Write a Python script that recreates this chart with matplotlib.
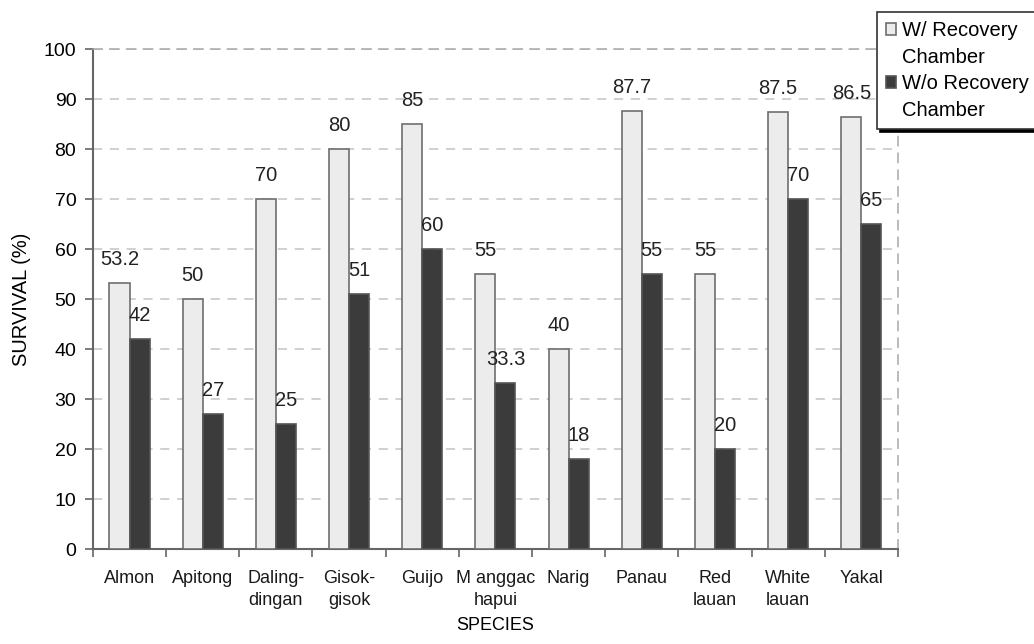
import matplotlib.pyplot as plt
from matplotlib.patches import Patch
import numpy as np

plt.rcParams['font.family'] = ['Liberation Sans', 'DejaVu Sans']

species = ['Almon', 'Apitong', 'Daling-\ndingan', 'Gisok-\ngisok', 'Guijo', 'M anggac\nhapui',
           'Narig', 'Panau', 'Red\nlauan', 'White\nlauan', 'Yakal']
with_chamber = [53.2, 50, 70, 80, 85, 55, 40, 87.7, 55, 87.5, 86.5]
without_chamber = [42, 27, 25, 51, 60, 33.3, 18, 55, 20, 70, 65]

fig = plt.figure(figsize=(10.34, 6.44), dpi=100)
ax = fig.add_axes([0.0899, 0.1475, 0.7785, 0.7764])

x = np.arange(len(species))
w = 0.274
b1 = ax.bar(x - w / 2, with_chamber, w, color='#ececec', edgecolor='#6e6e6e', linewidth=1.2, zorder=3)
b2 = ax.bar(x + w / 2, without_chamber, w, color='#3b3b3b', edgecolor='#555555', linewidth=1.2, zorder=3)

for bars, vals in ((b1, with_chamber), (b2, without_chamber)):
    for bar, v in zip(bars, vals):
        ax.annotate(f'{v:g}', (bar.get_x() + bar.get_width() / 2, v), xytext=(0, 10),
                    textcoords='offset points', ha='center', va='bottom', fontsize=14.5, color='#222222')

ax.set_xlim(-0.5, len(species) - 0.5)
ax.set_ylim(0, 100)
ax.set_yticks(range(0, 101, 10))
ax.tick_params(axis='y', labelsize=14, length=6, color='#666666', width=1.2, pad=6)
ax.set_xticks(x)
ax.set_xticklabels(species, fontsize=13, color='#1a1a1a')
for lab in ax.get_xticklabels():
    lab.set_linespacing(1.38)
ax.set_xticks(np.arange(-0.5, len(species), 1), minor=True)
ax.tick_params(axis='x', which='major', length=0, pad=15)
ax.tick_params(axis='x', which='minor', length=6, color='#666666', width=1.2)

ax.yaxis.grid(True, linestyle=(0, (6, 5)), color='#c4c4c4', linewidth=1.1, zorder=0)
for side in ('left', 'bottom'):
    ax.spines[side].set_color('#666666')
    ax.spines[side].set_linewidth(1.5)
for side in ('top', 'right'):
    ax.spines[side].set_linestyle((0, (6, 5)))
    ax.spines[side].set_color('#a8a8a8')
    ax.spines[side].set_linewidth(1.1)

ax.set_ylabel('SURVIVAL (%)', fontsize=14.5, labelpad=9)
ax.set_xlabel('SPECIES', fontsize=13, labelpad=6)

blank = Patch(visible=False)
handles = [b1, blank, b2, blank]
labels = ['W/ Recovery', 'Chamber', 'W/o Recovery', 'Chamber']
leg = fig.legend(handles, labels, loc='upper left', bbox_to_anchor=(877 / 1034, 1 - 12 / 644),
                 fontsize=14.5, frameon=True, fancybox=False,
                 shadow={'facecolor': 'black', 'edgecolor': 'black', 'alpha': 1},
                 edgecolor='#333333', handlelength=0.5, handleheight=0.5, handletextpad=0.3,
                 borderpad=0.45, labelspacing=0.38, borderaxespad=0)
leg.get_frame().set_linewidth(1.2)

fig.savefig('out.png', dpi=100)
